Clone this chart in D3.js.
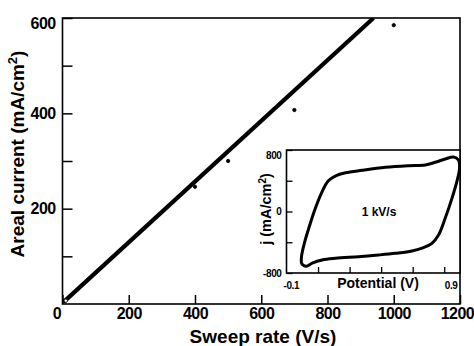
<!DOCTYPE html>
<meta charset="utf-8">
<style>
body {
  margin: 0;
  background: white;
}

svg text {
  font-family: "Liberation Sans", Arial, Helvetica, sans-serif;
  font-weight: bold;
  fill: black;
}

.frame {
  fill: none;
  stroke: black;
  stroke-width: 1.6px;
}
</style>
<body>

<svg width="474" height="346" id="chart"></svg>

<script src="https://d3js.org/d3.v7.min.js" charset="utf-8"></script>
<script>

// main plot: areal current vs sweep rate
var rateTicks = [0, 200, 400, 600, 800, 1000, 1200];
var currentTicks = [200, 400, 600];
var currentMinorTicks = [100, 300, 500];

var sweepRate = [10, 400, 500, 700, 1000];
var arealCurrent = [7, 246, 300, 407, 585];

var fitRate = [3, 939];
var fitCurrent = [4, 600];

// inset: cyclic voltammogram at 1 kV/s
var cvPotential = [0.990, 0.997, 0.980, 0.949, 0.906, 0.864, 0.822, 0.769, 0.695, 0.590,
                   0.484, 0.358, 0.210, 0.126, 0.063, 0.025, -0.003, -0.005, 0.016, 0.041,
                   0.079, 0.121, 0.164, 0.215, 0.273, 0.379, 0.527, 0.674, 0.780, 0.843,
                   0.906, 0.959];
var cvCurrent = [670, 562, 388, 171, -89, -306, -414, -470, -514, -544,
                 -566, -588, -609, -631, -672, -712, -680, -590, -392, -219,
                 20, 236, 396, 468, 503, 536, 575, 596, 605, 640,
                 683, 708];

var cvCurrentTicks = [-800, -400, 0, 400, 800];
var cvCurrentLabels = [-800, 0, 800];
var cvPotentialTicks = [0.1, 0.3, 0.5, 0.7, 0.9];
var cvPotentialLabels = [-0.1, 0.9];

var svg = d3.select("#chart");

var x = d3.scaleLinear().domain([0, 1200]).range([62.5, 460]);
var y = d3.scaleLinear().domain([0, 600]).range([304, 18]);

svg.append("clipPath")
    .attr("id", "plotClip")
  .append("rect")
    .attr("x", x(0))
    .attr("y", y(600))
    .attr("width", x(1200) - x(0))
    .attr("height", y(0) - y(600));

// x axis, ticks point inward
var gx = svg.append("g")
    .attr("transform", "translate(0," + y(0) + ")")
    .call(d3.axisBottom(x).tickValues(rateTicks).tickSize(-9).tickPadding(4)
      .tickFormat(d3.format("d")));
gx.select(".domain").remove();
gx.selectAll("line").attr("stroke-width", 1.5);
gx.selectAll("text")
    .attr("font-size", "16px")
    .attr("font-family", null)
    .attr("letter-spacing", "-0.6px")
    .attr("text-anchor", function(d) { return d === 1200 ? "end" : "middle"; })
    .attr("dx", function(d) { return d === 0 ? -6 : (d === 1200 ? 13.5 : 0); });

// y axis
var gy = svg.append("g")
    .attr("transform", "translate(" + x(0) + ",0)")
    .call(d3.axisLeft(y).tickValues(currentTicks).tickSize(-10).tickPadding(7));
gy.select(".domain").remove();
gy.selectAll("line").attr("stroke-width", 1.5);
gy.selectAll("text")
    .attr("font-size", "16px")
    .attr("font-family", null)
    .attr("letter-spacing", "-0.6px")
    .attr("y", function(d) { return d === 600 ? 5 : 0; });

var gyMinor = svg.append("g")
    .attr("transform", "translate(" + x(0) + ",0)")
    .call(d3.axisLeft(y).tickValues(currentMinorTicks).tickSize(-10).tickFormat(""));
gyMinor.select(".domain").remove();
gyMinor.selectAll("line").attr("stroke-width", 1.5);

svg.append("rect")
    .attr("class", "frame")
    .attr("x", x(0))
    .attr("y", y(600))
    .attr("width", x(1200) - x(0))
    .attr("height", y(0) - y(600));

// fit line
var fitLine = d3.line()
    .x(function(d) { return x(fitRate[d]); })
    .y(function(d) { return y(fitCurrent[d]); });

svg.append("path")
    .datum(d3.range(fitRate.length))
    .attr("clip-path", "url(#plotClip)")
    .attr("fill", "none")
    .attr("stroke", "black")
    .attr("stroke-width", 4.2)
    .attr("d", fitLine);

// measured points
svg.selectAll(".pt")
    .data(d3.range(sweepRate.length))
  .enter().append("circle")
    .attr("class", "pt")
    .attr("cx", function(d) { return x(sweepRate[d]); })
    .attr("cy", function(d) { return y(arealCurrent[d]); })
    .attr("r", 1.7)
    .attr("fill", function(d) { return d === 0 ? "white" : "black"; })
    .attr("stroke", "black")
    .attr("stroke-width", 0.8);

svg.append("text")
    .attr("text-anchor", "middle")
    .attr("x", 263)
    .attr("y", 343)
    .attr("font-size", "19px")
    .text("Sweep rate (V/s)");

svg.append("text")
    .attr("text-anchor", "middle")
    .attr("transform", "translate(23.5,154) rotate(-90)")
    .attr("font-size", "19px")
    .html("Areal current (mA/cm<tspan dy='-7' font-size='13px'>2</tspan><tspan dy='7'>)</tspan>");

// ---- inset ----
var ix = d3.scaleLinear().domain([-0.1, 1.0]).range([286.5, 460]);
var iy = d3.scaleLinear().domain([-800, 800]).range([273, 150]);

svg.append("rect")
    .attr("x", ix(-0.1))
    .attr("y", iy(800))
    .attr("width", ix(1.0) - ix(-0.1))
    .attr("height", iy(-800) - iy(800))
    .attr("fill", "white");

var cvLine = d3.line()
    .x(function(d) { return ix(cvPotential[d]); })
    .y(function(d) { return iy(cvCurrent[d]); })
    .curve(d3.curveCatmullRomClosed.alpha(0.5));

svg.append("path")
    .datum(d3.range(cvPotential.length))
    .attr("fill", "none")
    .attr("stroke", "black")
    .attr("stroke-width", 3)
    .attr("stroke-linejoin", "round")
    .attr("d", cvLine);

var iyAxis = svg.append("g")
    .attr("transform", "translate(" + ix(-0.1) + ",0)")
    .call(d3.axisLeft(iy).tickValues(cvCurrentTicks).tickSize(-6).tickPadding(5)
      .tickFormat(function(d) { return cvCurrentLabels.indexOf(d) >= 0 ? d : ""; }));
iyAxis.select(".domain").remove();
iyAxis.selectAll("line").attr("stroke-width", 1.3);
iyAxis.selectAll("text")
    .attr("font-size", "10px")
    .attr("font-family", null)
    .attr("letter-spacing", "-0.4px")
    .attr("y", function(d) { return d === 800 ? 5 : 0; })
    .text(function(d) { return d === -800 ? "-800" : (cvCurrentLabels.indexOf(d) >= 0 ? d : ""); });

var ixAxis = svg.append("g")
    .attr("transform", "translate(0," + iy(-800) + ")")
    .call(d3.axisBottom(ix).tickValues(cvPotentialTicks).tickSize(-6).tickFormat(""));
ixAxis.select(".domain").remove();
ixAxis.selectAll("line").attr("stroke-width", 1.3);

var ixLabels = svg.append("g")
    .attr("transform", "translate(0," + iy(-800) + ")")
    .call(d3.axisBottom(ix).tickValues(cvPotentialLabels).tickSize(0).tickPadding(9)
      .tickFormat(d3.format(".1f")));
ixLabels.select(".domain").remove();
ixLabels.selectAll("text")
    .attr("font-size", "10px")
    .attr("font-family", null)
    .attr("letter-spacing", "-0.4px")
    .attr("text-anchor", "start")
    .attr("dx", function(d) { return d < 0 ? -3.5 : 0; })
    .text(function(d) { return d < 0 ? "-0.1" : "0.9"; });

svg.append("rect")
    .attr("class", "frame")
    .attr("x", ix(-0.1))
    .attr("y", iy(800))
    .attr("width", ix(1.0) - ix(-0.1))
    .attr("height", iy(-800) - iy(800));

svg.append("text")
    .attr("text-anchor", "middle")
    .attr("x", 378)
    .attr("y", 288)
    .attr("font-size", "14px")
    .text("Potential (V)");

svg.append("text")
    .attr("text-anchor", "middle")
    .attr("transform", "translate(271,209) rotate(-90)")
    .attr("font-size", "14.5px")
    .html("j (mA/cm<tspan dy='-5' font-size='10px'>2</tspan><tspan dy='5'>)</tspan>");

svg.append("text")
    .attr("text-anchor", "middle")
    .attr("x", 379)
    .attr("y", 212)
    .attr("dy", "0.35em")
    .attr("font-size", "12px")
    .text("1 kV/s");

</script>
</body>
